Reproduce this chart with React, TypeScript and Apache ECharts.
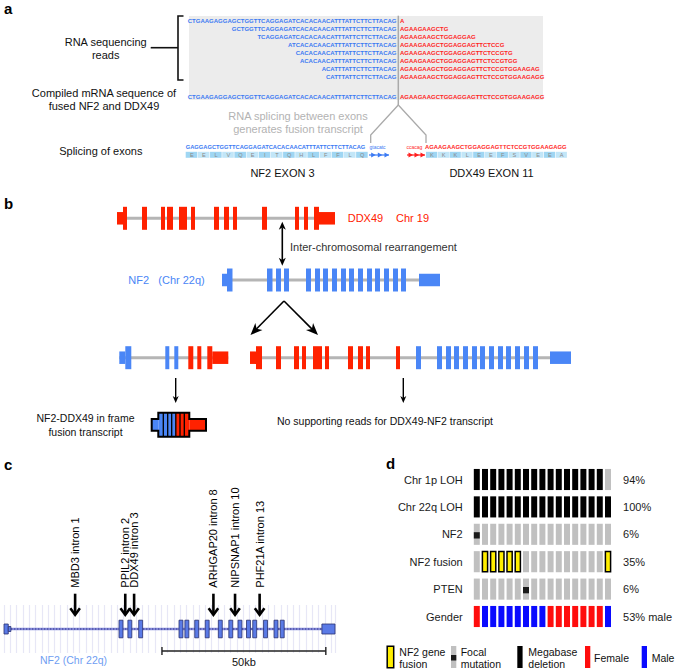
import React, { useEffect, useRef } from "react";
import * as echarts from "echarts";

const FONT = "'Liberation Sans', Arial, Helvetica, sans-serif";
const BLUE = "#4a86f6";
const RED = "#ff2200";
const SEQ_BLUE = "#3b7af3";
const SEQ_RED = "#ff1f1f";

// ---------- Panel a: reads ----------
const readsNF2 = [
  "CTGAAGAGGAGCTGGTTCAGGAGATCACACAACATTTATTCTTCTTACAG",
  "GCTGGTTCAGGAGATCACACAACATTTATTCTTCTTACAG",
  "TCAGGAGATCACACAACATTTATTCTTCTTACAG",
  "ATCACACAACATTTATTCTTCTTACAG",
  "CACACAACATTTATTCTTCTTACAG",
  "ACACAACATTTATTCTTCTTACAG",
  "ACATTTATTCTTCTTACAG",
  "CATTTATTCTTCTTACAG",
];
const readsDDX49 = [
  "A",
  "AGAAGAAGCTG",
  "AGAAGAAGCTGGAGGAG",
  "AGAAGAAGCTGGAGGAGTTCTCCG",
  "AGAAGAAGCTGGAGGAGTTCTCCGTG",
  "AGAAGAAGCTGGAGGAGTTCTCCGTGG",
  "AGAAGAAGCTGGAGGAGTTCTCCGTGGAAGAG",
  "AGAAGAAGCTGGAGGAGTTCTCCGTGGAAGAGG",
];
const compiledNF2 = "CTGAAGAGGAGCTGGTTCAGGAGATCACACAACATTTATTCTTCTTACAG";
const compiledDDX49 = "AGAAGAAGCTGGAGGAGTTCTCCGTGGAAGAGG";
const spliceNF2Exon = "GAGGAGCTGGTTCAGGAGATCACACAACATTTATTCTTCTTACAG";
const spliceNF2Intron = "gtacatc";
const spliceDDX49Intron = "ccacag";
const spliceDDX49Exon = "AGAAGAAGCTGGAGGAGTTCTCCGTGGAAGAGG";
const aminoNF2 = ["E", "E", "L", "V", "Q", "E", "I", "T", "Q", "H", "L", "F", "F", "L", "Q"];
const aminoDDX49 = ["K", "K", "K", "L", "E", "E", "F", "S", "V", "E", "E", "A"];

// ---------- Panel b: gene models [start, end, kind(1 exon / 0 UTR), gene(0 NF2 / 1 DDX49)] ----------
const geneDDX49 = [
  [0, 6, 0, 1], [6, 10, 1, 1], [25, 30, 1, 1], [44, 48, 1, 1], [50, 56, 1, 1], [62, 70, 1, 1],
  [74, 78, 1, 1], [97, 102, 1, 1], [107, 112, 1, 1], [116, 120, 1, 1], [145, 150, 1, 1],
  [178, 182, 1, 1], [187, 191, 1, 1], [197, 202, 1, 1], [202, 218, 0, 1],
];
const geneNF2 = [
  [0, 5, 0, 0], [5, 10.5, 1, 0], [45, 50.5, 1, 0], [54, 59, 1, 0], [62, 67, 1, 0],
  [84, 89, 1, 0], [93, 98, 1, 0], [101, 106, 1, 0], [110, 115, 1, 0], [119, 124, 1, 0], [127, 132, 1, 0],
  [136, 141, 1, 0], [145, 150, 1, 0], [153, 158, 1, 0], [162, 167, 1, 0], [171, 176, 1, 0], [179, 184, 1, 0],
  [197, 218, 0, 0],
];
const fusionNF2DDX49 = [
  [0, 6, 0, 0], [6, 12, 1, 0], [46, 50, 1, 0], [55, 59, 1, 0],
  [69, 74, 1, 1], [78, 82, 1, 1], [88, 93, 1, 1], [93, 109, 0, 1],
];
const fusionDDX49NF2 = [
  [0, 6, 0, 1], [6, 12, 1, 1], [26, 31, 1, 1], [44, 49, 1, 1], [52, 56, 1, 1], [63, 72, 1, 1],
  [75, 79, 1, 1], [98, 103, 1, 1], [108, 113, 1, 1], [116, 120, 1, 1], [146, 150, 1, 1],
  [166, 171, 1, 0], [187, 192, 1, 0], [196, 201, 1, 0], [204, 209, 1, 0], [213, 218, 1, 0],
  [222, 227, 1, 0], [230, 235, 1, 0], [239, 244, 1, 0], [248, 253, 1, 0], [256, 261, 1, 0],
  [265, 270, 1, 0], [274, 279, 1, 0], [283, 288, 1, 0], [300, 321, 0, 0],
];

// ---------- Panel c: NF2 locus (kb) ----------
const nf2LengthKb = 101;
const nf2ElementsKb = [
  [0, 1.3, 0], [1.3, 2.1, 2],
  [35.1, 36.3, 1], [37.8, 39.0, 1], [41.1, 42.3, 1], [53.4, 54.6, 1], [55.2, 56.4, 1], [58.2, 59.4, 1],
  [61.4, 62.6, 1], [65.4, 66.6, 1], [68.6, 69.8, 1], [71.4, 72.6, 1], [74.0, 75.2, 1], [75.9, 77.1, 1],
  [79.2, 80.4, 1], [82.4, 83.6, 1], [84.3, 85.5, 1],
  [97, 101, 0],
];
const breakpointKb = [21.7, 37.0, 39.7, 63.9, 70.5, 78.0];
const breakpointLabels = [
  "MBD3 intron 1", "PPIL2 intron 2", "DDX49 intron 3",
  "ARHGAP20 intron 8", "NIPSNAP1 intron 10", "PHF21A intron 13",
];
const scaleBarKb = [48.2, 98.2];

// ---------- Panel d: tumour alterations ----------
const sampleIds = ["T1", "T2", "T3", "T4", "T5", "T6", "T7", "T8", "T9", "T10", "T11", "T12", "T13", "T14", "T15", "T16", "T17"];
const rowLabels = ["Chr 1p LOH", "Chr 22q LOH", "NF2", "NF2 fusion", "PTEN", "Gender"];
const rowPercents = ["94%", "100%", "6%", "35%", "6%", "53% male"];
// codes: 0 none, 1 megabase deletion, 2 focal mutation, 3 NF2 gene fusion, 4 female, 5 male
const chr1pLOH = [1, 1, 1, 1, 1, 1, 1, 1, 1, 1, 1, 1, 1, 1, 1, 1, 0];
const chr22qLOH = [1, 1, 1, 1, 1, 1, 1, 1, 1, 1, 1, 1, 1, 1, 1, 1, 1];
const nf2Mut = [2, 0, 0, 0, 0, 0, 0, 0, 0, 0, 0, 0, 0, 0, 0, 0, 0];
const nf2Fusion = [0, 3, 3, 3, 3, 3, 0, 0, 0, 0, 0, 0, 0, 0, 0, 0, 3];
const ptenMut = [0, 0, 0, 0, 0, 0, 2, 0, 0, 0, 0, 0, 0, 0, 0, 0, 0];
const gender = [4, 5, 5, 5, 5, 5, 5, 5, 5, 4, 4, 4, 4, 4, 4, 4, 5];
const dRows = [chr1pLOH, chr22qLOH, nf2Mut, nf2Fusion, ptenMut, gender];

// ---------- helpers ----------
function T(x: number, y: number, text: string, o: any = {}) {
  const align = o.align ?? "left";
  return {
    type: "text", x, y, silent: true, rotation: o.rotation ?? 0,
    style: {
      text, fill: o.fill ?? "#111", fontSize: o.size ?? 11, fontFamily: FONT,
      fontWeight: o.weight ?? "normal", align, verticalAlign: "middle",
      textAlign: align, textVerticalAlign: "middle",
    },
  };
}
function L(x1: number, y1: number, x2: number, y2: number, stroke = "#000", lw = 1.5) {
  return { type: "line", silent: true, shape: { x1, y1, x2, y2 }, style: { stroke, lineWidth: lw } };
}
function R(x: number, y: number, w: number, h: number, fill: string, stroke?: string, lw = 1) {
  return { type: "rect", silent: true, shape: { x, y, width: w, height: h }, style: stroke ? { fill, stroke, lineWidth: lw } : { fill } };
}
function head(tx: number, ty: number, ux: number, uy: number, hl: number, hw: number) {
  const px = -uy, py = ux;
  return {
    type: "polygon", silent: true,
    shape: {
      points: [
        [tx, ty],
        [tx - ux * hl + px * hw / 2, ty - uy * hl + py * hw / 2],
        [tx - ux * hl * 0.72, ty - uy * hl * 0.72],
        [tx - ux * hl - px * hw / 2, ty - uy * hl - py * hw / 2],
      ],
    },
    style: { fill: "#000" },
  };
}
function arrow(x1: number, y1: number, x2: number, y2: number, lw: number, hl: number, hw: number, both = false) {
  const dx = x2 - x1, dy = y2 - y1, len = Math.hypot(dx, dy), ux = dx / len, uy = dy / len;
  const sx = both ? x1 + ux * hl * 0.7 : x1, sy = both ? y1 + uy * hl * 0.7 : y1;
  const els: any[] = [L(sx, sy, x2 - ux * hl * 0.7, y2 - uy * hl * 0.7, "#000", lw), head(x2, y2, ux, uy, hl, hw)];
  if (both) els.push(head(x1, y1, -ux, -uy, hl, hw));
  return els;
}
function chevrons(x0: number, x1: number, y: number, color: string) {
  const els: any[] = [L(x0, y, x1, y, color, 1.2)];
  const step = (x1 - x0) / 3;
  for (let i = 0; i < 3; i++) {
    const tx = x0 + step * (i + 1);
    els.push({ type: "polygon", silent: true, shape: { points: [[tx, y], [tx - 4.5, y - 2.6], [tx - 4.5, y + 2.6]] }, style: { fill: color } });
  }
  return els;
}

function buildGraphics() {
  const g: any[] = [];
  // panel letters
  g.push(T(4, 8.5, "a", { size: 15, weight: "bold", fill: "#000" }));
  g.push(T(4, 203, "b", { size: 15, weight: "bold", fill: "#000" }));
  g.push(T(4, 464, "c", { size: 15, weight: "bold", fill: "#000" }));
  g.push(T(386, 463, "d", { size: 15, weight: "bold", fill: "#000" }));

  // ----- panel a -----
  g.push(R(189, 16, 354, 84, "#ececec"));
  const seqSize = 6;
  readsNF2.forEach((s, i) => {
    const y = 20.7 + i * 8;
    g.push(T(396.5, y, s, { align: "right", fill: SEQ_BLUE, size: seqSize, weight: "bold" }));
    g.push(T(400, y, readsDDX49[i], { fill: SEQ_RED, size: seqSize, weight: "bold" }));
  });
  g.push(T(396.5, 97.3, compiledNF2, { align: "right", fill: SEQ_BLUE, size: seqSize, weight: "bold" }));
  g.push(T(400, 97.3, compiledDDX49, { fill: SEQ_RED, size: seqSize, weight: "bold" }));
  // divider & split lines
  g.push(L(398.3, 15.7, 398.3, 105, "#aaaaaa", 1.5));
  g.push({ type: "polyline", silent: true, shape: { points: [[398.3, 105], [370.7, 135], [370.7, 143]] }, style: { stroke: "#aaaaaa", lineWidth: 1.3, fill: "none" } });
  g.push({ type: "polyline", silent: true, shape: { points: [[398.3, 105], [426, 135], [426, 143]] }, style: { stroke: "#aaaaaa", lineWidth: 1.3, fill: "none" } });
  // left labels + bracket
  g.push(T(105.7, 42, "RNA sequencing", { align: "center" }));
  g.push(T(105.7, 54.5, "reads", { align: "center" }));
  g.push(L(150.7, 47.7, 178, 47.7, "#111", 1.6));
  g.push({ type: "polyline", silent: true, shape: { points: [[183.5, 16], [178, 16], [178, 80], [183.5, 80]] }, style: { stroke: "#111", lineWidth: 1.6, fill: "none" } });
  g.push(T(104, 93, "Compiled mRNA sequence of", { align: "center" }));
  g.push(T(104, 106, "fused NF2 and DDX49", { align: "center" }));
  g.push(T(298, 116, "RNA splicing between exons", { align: "center", fill: "#b3b3b3" }));
  g.push(T(298, 129, "generates fusion transcript", { align: "center", fill: "#b3b3b3" }));
  g.push(T(100.8, 151, "Splicing of exons", { align: "center" }));
  g.push(T(282.5, 173.3, "NF2 EXON 3", { align: "center" }));
  g.push(T(491.5, 173.3, "DDX49 EXON 11", { align: "center" }));
  // splice sequences
  g.push(T(185.7, 147, spliceNF2Exon, { fill: SEQ_BLUE, size: 5.75, weight: "bold" }));
  g.push(T(369.5, 147.3, spliceNF2Intron, { fill: SEQ_BLUE, size: 5 }));
  g.push(T(406.5, 147.3, spliceDDX49Intron, { fill: SEQ_RED, size: 5 }));
  g.push(T(425, 147, spliceDDX49Exon, { fill: SEQ_RED, size: 5.9, weight: "bold" }));
  // amino acid rows
  const aa = (x0: number, x1: number, letters: string[]) => {
    const w = (x1 - x0) / letters.length;
    letters.forEach((ch, i) => {
      g.push(R(x0 + i * w, 151.8, w - 0.6, 6, i % 2 === 0 ? "#9fd6f3" : "#c2e6f8"));
      g.push(T(x0 + i * w + w / 2, 155, ch, { align: "center", fill: "#8a8a8a", size: 5.6 }));
    });
  };
  aa(185.7, 368.3, aminoNF2);
  aa(426, 567.5, aminoDDX49);
  g.push(...chevrons(369, 389, 155, SEQ_BLUE));
  g.push(...chevrons(407, 425, 155, SEQ_RED));

  // ----- panel b -----
  g.push(T(347.7, 218.3, "DDX49", { fill: RED }));
  g.push(T(396, 218.3, "Chr 19", { fill: RED }));
  g.push(T(128.3, 280, "NF2", { fill: BLUE }));
  g.push(T(158.3, 280, "(Chr 22q)", { fill: BLUE }));
  g.push(...arrow(282.3, 221.7, 282.3, 265.7, 1.6, 8, 7, true));
  g.push(T(290, 246.7, "Inter-chromosomal rearrangement", { fill: "#333" }));
  g.push(...arrow(284, 301, 250.5, 335, 1.6, 12, 10));
  g.push(...arrow(284, 301, 318, 335, 1.6, 12, 10));
  g.push(...arrow(175.7, 378, 175.7, 403, 1.4, 7, 6));
  g.push(...arrow(403.3, 378, 403.3, 403, 1.4, 7, 6));
  g.push(T(85.5, 417.7, "NF2-DDX49 in frame", { align: "center", size: 10.5 }));
  g.push(T(85.5, 431.7, "fusion transcript", { align: "center", size: 10.5 }));
  g.push(T(277, 421, "No supporting reads for DDX49-NF2 transcript", { size: 10.5 }));
  // fusion transcript icon
  g.push(R(151.7, 419, 6.6, 11.7, BLUE));
  g.push(R(158.3, 412.7, 17, 24, BLUE));
  g.push(R(175.3, 412.7, 14, 24, RED));
  g.push(R(189.3, 419, 16.7, 11.7, RED));
  [163.3, 167.7, 171.7, 175.8, 180, 184.3].forEach((x) => g.push(L(x, 412.7, x, 436.7, "#000", 1.3)));
  g.push({
    type: "polygon", silent: true,
    shape: { points: [[151.7, 419], [158.3, 419], [158.3, 412.7], [189.3, 412.7], [189.3, 419], [206, 419], [206, 430.7], [189.3, 430.7], [189.3, 436.7], [158.3, 436.7], [158.3, 430.7], [151.7, 430.7]] },
    style: { fill: "none", stroke: "#000", lineWidth: 2 },
  });

  // ----- panel c -----
  g.push(T(73.5, 660, "NF2 (Chr 22q)", { align: "center", fill: "#6f9ef2", size: 10.5 }));

  // ----- panel d legend -----
  g.push(R(387.2, 646.2, 6.5, 21.6, "#ffee00", "#000", 1.5));
  g.push(T(399.3, 651.5, "NF2 gene", { size: 10.5 }));
  g.push(T(399.3, 664, "fusion", { size: 10.5 }));
  g.push(R(451, 646, 5.3, 22, "#c0c0c0"));
  g.push(R(451, 655, 5.3, 5.5, "#1a1a1a"));
  g.push(T(460.7, 651.5, "Focal", { size: 10.5 }));
  g.push(T(460.7, 664, "mutation", { size: 10.5 }));
  g.push(R(517.3, 646, 5.3, 22, "#000"));
  g.push(T(528.3, 651.5, "Megabase", { size: 10.5 }));
  g.push(T(528.3, 664, "deletion", { size: 10.5 }));
  g.push(R(585, 646, 5.3, 22, "#ff0d0d"));
  g.push(T(594, 657.5, "Female", { size: 10.5 }));
  g.push(R(641.7, 646, 5.3, 22, "#0a0aff"));
  g.push(T(651.7, 657.5, "Male", { size: 10.5 }));
  return g;
}

const FULL_H = 23;
const UTR_H = 12.5;
function geneItem(params: any, api: any) {
  const s = api.value(0), e = api.value(1), kind = api.value(2), gene = api.value(3);
  const p0 = api.coord([s, 0]);
  const p1 = api.coord([e, 0]);
  const h = kind === 1 ? FULL_H : UTR_H;
  return { type: "rect", shape: { x: p0[0], y: p0[1] - h / 2, width: p1[0] - p0[0], height: h }, style: { fill: gene === 0 ? BLUE : RED } };
}
function locusItem(params: any, api: any) {
  const s = api.value(0), e = api.value(1), kind = api.value(2);
  const p0 = api.coord([s, 0]);
  const p1 = api.coord([e, 0]);
  const h = kind === 1 ? 17.6 : kind === 0 ? 10 : 5;
  return { type: "rect", shape: { x: p0[0], y: p0[1] - h / 2, width: p1[0] - p0[0], height: h }, style: { fill: "#5a7ae6", stroke: "#283070", lineWidth: 0.8 } };
}
function breakpointItem(params: any, api: any) {
  const c = api.coord([api.value(0), 0]);
  const x = c[0], top = c[1] - 35.3, tip = c[1] - 14.3;
  return {
    type: "group",
    children: [
      { type: "line", shape: { x1: x, y1: top, x2: x, y2: tip - 1 }, style: { stroke: "#000", lineWidth: 2.6 } },
      { type: "polyline", shape: { points: [[x - 4.8, tip - 6.5], [x, tip], [x + 4.8, tip - 6.5]] }, style: { stroke: "#000", lineWidth: 2.6, fill: "none" } },
      {
        type: "text", x, y: top - 6, rotation: Math.PI / 2,
        style: { text: breakpointLabels[params.dataIndex], fill: "#000", fontSize: 11, fontFamily: FONT, align: "left", verticalAlign: "middle", textAlign: "left", textVerticalAlign: "middle" },
      },
    ],
  };
}
function scaleBarItem(params: any, api: any) {
  const a = api.coord([api.value(0), 0]);
  const b = api.coord([api.value(1), 0]);
  const y = a[1] + 22;
  return {
    type: "group",
    children: [
      { type: "line", shape: { x1: a[0], y1: y, x2: b[0], y2: y }, style: { stroke: "#222", lineWidth: 1.4 } },
      { type: "line", shape: { x1: a[0], y1: y - 4, x2: a[0], y2: y + 4 }, style: { stroke: "#222", lineWidth: 1.4 } },
      { type: "line", shape: { x1: b[0], y1: y - 4, x2: b[0], y2: y + 4 }, style: { stroke: "#222", lineWidth: 1.4 } },
      { type: "text", x: (a[0] + b[0]) / 2, y: y + 11, style: { text: `${api.value(1) - api.value(0)}kb`, fill: "#111", fontSize: 11, fontFamily: FONT, align: "center", verticalAlign: "middle", textAlign: "center", textVerticalAlign: "middle" } },
    ],
  };
}
function cellItem(params: any, api: any) {
  const c = api.coord([api.value(0), api.value(1)]);
  const band = api.size([1, 1]);
  const w = band[0] * 0.73, h = band[1] * 0.77;
  const x = c[0] - w / 2, y = c[1] - h / 2;
  const code = api.value(2);
  if (code === 1) return { type: "rect", shape: { x, y, width: w, height: h }, style: { fill: "#000" } };
  if (code === 3) return { type: "rect", shape: { x: x + 0.4, y: y + 0.4, width: w - 0.8, height: h - 0.8 }, style: { fill: "#ffee00", stroke: "#000", lineWidth: 1.5 } };
  if (code === 4) return { type: "rect", shape: { x, y, width: w, height: h }, style: { fill: "#ff0d0d" } };
  if (code === 5) return { type: "rect", shape: { x, y, width: w, height: h }, style: { fill: "#0a0aff" } };
  const children: any[] = [{ type: "rect", shape: { x, y, width: w, height: h }, style: { fill: "#c0c0c0" } }];
  if (code === 2) children.push({ type: "rect", shape: { x, y: y + h * 0.4, width: w, height: h * 0.3 }, style: { fill: "#1a1a1a" } });
  return { type: "group", children };
}

function buildOption() {
  const tracks = [
    { data: geneDDX49, len: 218, grid: { left: 117, top: 203.3, width: 218, height: 30 } },
    { data: geneNF2, len: 218, grid: { left: 222, top: 265, width: 218, height: 30 } },
    { data: fusionNF2DDX49, len: 109, grid: { left: 119.3, top: 342.7, width: 109, height: 30 } },
    { data: fusionDDX49NF2, len: 321, grid: { left: 250, top: 342.7, width: 321, height: 30 } },
  ];
  const grid: any[] = tracks.map((t) => t.grid);
  grid.push({ left: 4, top: 605, width: 331, height: 48 });
  grid.push({ left: 472.7, top: 465.8, width: 142.3, height: 164.4 });

  const xAxis: any[] = tracks.map((t, i) => ({ gridIndex: i, type: "value", min: 0, max: t.len, show: false }));
  xAxis.push({
    gridIndex: 4, type: "value", min: 0, max: nf2LengthKb, interval: 1.92,
    axisLine: { show: false }, axisTick: { show: false }, axisLabel: { show: false },
    splitLine: { show: true, lineStyle: { color: "#e7e7f6", width: 1.2 } },
  });
  xAxis.push({ gridIndex: 5, type: "category", data: sampleIds, show: false });

  const yAxis: any[] = [0, 1, 2, 3, 4].map((i) => ({ gridIndex: i, type: "value", min: -1, max: 1, show: false }));
  yAxis.push({
    gridIndex: 5, type: "category", data: rowLabels, inverse: true, position: "left",
    axisLine: { show: false }, axisTick: { show: false }, splitLine: { show: false },
    axisLabel: { color: "#1a1a1a", fontSize: 11, fontFamily: FONT, margin: 10 },
  });
  yAxis.push({
    gridIndex: 5, type: "category", data: rowPercents, inverse: true, position: "right",
    axisLine: { show: false }, axisTick: { show: false }, splitLine: { show: false },
    axisLabel: { color: "#1a1a1a", fontSize: 11, fontFamily: FONT, margin: 11, align: "left" },
  });

  const series: any[] = [];
  tracks.forEach((t, i) => {
    series.push({
      type: "line", xAxisIndex: i, yAxisIndex: i, data: [[0, 0], [t.len, 0]], symbol: "none", silent: true,
      lineStyle: { color: "#b5b5b5", width: 3 }, z: 1,
    });
    series.push({ type: "custom", xAxisIndex: i, yAxisIndex: i, data: t.data, renderItem: geneItem, silent: true, clip: false, z: 2 });
  });
  // panel c
  series.push({
    type: "line", xAxisIndex: 4, yAxisIndex: 4, data: [[2.1, 0], [97, 0]], symbol: "none", silent: true,
    lineStyle: { color: "#8c92e0", width: 2.4 }, z: 1,
  });
  series.push({
    type: "line", xAxisIndex: 4, yAxisIndex: 4, data: [[2.1, 0], [97, 0]], symbol: "none", silent: true,
    lineStyle: { color: "#2a2a80", width: 1, type: [1.5, 1.5] }, z: 1,
  });
  series.push({ type: "custom", xAxisIndex: 4, yAxisIndex: 4, data: nf2ElementsKb, renderItem: locusItem, silent: true, clip: false, z: 2 });
  series.push({ type: "custom", xAxisIndex: 4, yAxisIndex: 4, data: breakpointKb.map((k) => [k]), renderItem: breakpointItem, silent: true, clip: false, z: 3 });
  series.push({ type: "custom", xAxisIndex: 4, yAxisIndex: 4, data: [scaleBarKb], renderItem: scaleBarItem, silent: true, clip: false, z: 3 });
  // panel d
  const cells: number[][] = [];
  dRows.forEach((row, r) => row.forEach((code, i) => cells.push([i, r, code])));
  series.push({ type: "custom", xAxisIndex: 5, yAxisIndex: 5, data: cells, renderItem: cellItem, silent: true, clip: false, z: 2 });

  return {
    animation: false,
    backgroundColor: "#ffffff",
    textStyle: { fontFamily: FONT },
    grid, xAxis, yAxis, series,
    graphic: { elements: buildGraphics() },
  };
}

export default function App() {
  const ref = useRef<HTMLDivElement>(null);
  useEffect(() => {
    const chart = echarts.init(ref.current as HTMLDivElement, undefined, { renderer: "svg" });
    chart.setOption(buildOption() as any);
    return () => chart.dispose();
  }, []);
  return <div ref={ref} style={{ position: "absolute", left: 0, top: 0, width: 675, height: 671 }} />;
}
